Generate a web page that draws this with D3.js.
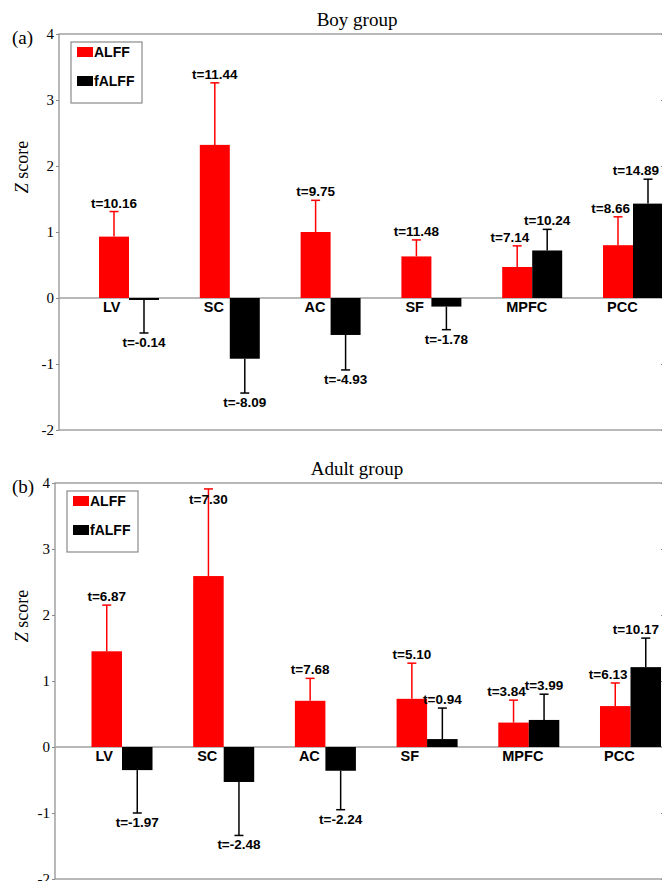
<!DOCTYPE html>
<html>
<head>
<meta charset="utf-8">
<script src="https://cdn.jsdelivr.net/npm/d3@7"></script>
<style>
  body { margin: 0; background: #fff; }
</style>
</head>
<body>
<div id="chart"></div>
<script>
"use strict";

// categories and series
const categories = ["LV", "SC", "AC", "SF", "MPFC", "PCC"];
const series = ["ALFF", "fALFF"];
const yTicks = [-2, -1, 0, 1, 2, 3, 4];

// boy group: mean Z score, error bar length, t value
const boyALFF = [0.93, 2.32, 1.00, 0.63, 0.47, 0.80];
const boyALFFErr = [0.38, 0.94, 0.48, 0.25, 0.32, 0.43];
const boyALFFt = ["10.16", "11.44", "9.75", "11.48", "7.14", "8.66"];
const boyFALFF = [-0.03, -0.92, -0.56, -0.13, 0.72, 1.43];
const boyFALFFErr = [0.50, 0.52, 0.53, 0.35, 0.32, 0.37];
const boyFALFFt = ["-0.14", "-8.09", "-4.93", "-1.78", "10.24", "14.89"];

// adult group
const adultALFF = [1.45, 2.59, 0.70, 0.73, 0.37, 0.62];
const adultALFFErr = [0.70, 1.32, 0.34, 0.54, 0.34, 0.35];
const adultALFFt = ["6.87", "7.30", "7.68", "5.10", "3.84", "6.13"];
const adultFALFF = [-0.35, -0.53, -0.36, 0.12, 0.41, 1.21];
const adultFALFFErr = [0.65, 0.81, 0.59, 0.47, 0.39, 0.44];
const adultFALFFt = ["-1.97", "-2.48", "-2.24", "0.94", "3.99", "10.17"];

const W = 662, H = 881;
const colors = { ALFF: "#ff0000", fALFF: "#000000" };
const serif = "'Liberation Serif', 'Times New Roman', serif";
const sans = "'Liberation Sans', Arial, sans-serif";
const frameColor = "#8a8a8a";

const svg = d3.select("#chart")
  .append("svg")
    .attr("width", W)
    .attr("height", H);

const panels = [
  { tag: "(a)", title: "Boy group", left: 59, right: 664, top: 34, bottom: 430,
    band: [78.6, 683.4], pad: 0.405,
    vals: [boyALFF, boyFALFF], errs: [boyALFFErr, boyFALFFErr], ts: [boyALFFt, boyFALFFt] },
  { tag: "(b)", title: "Adult group", left: 55, right: 664, top: 483, bottom: 879,
    band: [71.15, 681.35], pad: 0.40,
    vals: [adultALFF, adultFALFF], errs: [adultALFFErr, adultFALFFErr], ts: [adultALFFt, adultFALFFt] }
];

panels.forEach(drawPanel);

function drawPanel(p) {
  const y = d3.scaleLinear().domain([-2, 4]).range([p.bottom, p.top]);
  const x0 = d3.scaleBand().domain(categories).range(p.band)
    .paddingInner(p.pad).paddingOuter(p.pad / 2);
  const x1 = d3.scaleBand().domain(series).range([0, x0.bandwidth()]);

  const g = svg.append("g");

  // title and panel tag
  g.append("text")
    .attr("x", 357).attr("y", p.top - 8)
    .attr("text-anchor", "middle")
    .style("font-family", serif).style("font-size", "19px")
    .text(p.title);
  g.append("text")
    .attr("x", 12).attr("y", p.top + 10)
    .style("font-family", serif).style("font-size", "19px")
    .text(p.tag);

  // frame
  g.append("rect")
    .attr("x", p.left).attr("y", p.top)
    .attr("width", p.right - p.left).attr("height", p.bottom - p.top)
    .attr("fill", "none").attr("stroke", frameColor).attr("stroke-width", 1.2);

  // left axis
  const ax = g.append("g")
    .attr("transform", "translate(" + p.left + ",0)")
    .call(d3.axisLeft(y).tickValues(yTicks).tickSize(3).tickPadding(2)
      .tickFormat(function(d) { return String(d); }));
  ax.select(".domain").remove();
  ax.selectAll("line").attr("stroke", frameColor);
  ax.selectAll("text")
    .style("font-family", serif).style("font-size", "15px").attr("fill", "#000");

  // right axis ticks (inward)
  const axr = g.append("g")
    .attr("transform", "translate(" + p.right + ",0)")
    .call(d3.axisRight(y).tickValues(yTicks).tickSize(-3).tickFormat(""));
  axr.select(".domain").remove();
  axr.selectAll("line").attr("stroke", frameColor);

  // y label
  const yl = g.append("text")
    .attr("transform", "translate(28," + (p.top + 133) + ") rotate(-90)")
    .attr("text-anchor", "middle")
    .style("font-family", serif).style("font-size", "18px");
  yl.append("tspan").style("font-style", "italic").text("Z");
  yl.append("tspan").text(" score");

  // zero baseline
  g.append("line")
    .attr("x1", p.left).attr("x2", p.right)
    .attr("y1", y(0)).attr("y2", y(0))
    .attr("stroke", "#a0a0a0").attr("stroke-width", 1.5);

  const rows = [];
  categories.forEach(function(c, i) {
    series.forEach(function(s, j) {
      rows.push({ c: c, s: s, v: p.vals[j][i], e: p.errs[j][i], t: p.ts[j][i] });
    });
  });

  // bars
  g.append("g").selectAll("rect")
    .data(rows)
    .join("rect")
      .attr("x", function(d) { return x0(d.c) + x1(d.s); })
      .attr("width", x1.bandwidth())
      .attr("y", function(d) { return y(Math.max(d.v, 0)); })
      .attr("height", function(d) { return Math.abs(y(d.v) - y(0)); })
      .attr("fill", function(d) { return colors[d.s]; });

  // error bars
  const cx = function(d) { return x0(d.c) + x1(d.s) + x1.bandwidth() / 2; };
  const tip = function(d) { return d.v + (d.v < 0 ? -d.e : d.e); };
  const eb = g.append("g").selectAll("g")
    .data(rows)
    .join("g")
      .attr("stroke", function(d) { return colors[d.s]; })
      .attr("stroke-width", 1.5);
  eb.append("line")
    .attr("x1", cx).attr("x2", cx)
    .attr("y1", function(d) { return y(d.v); })
    .attr("y2", function(d) { return y(tip(d)); });
  eb.append("line")
    .attr("x1", function(d) { return cx(d) - 4.5; })
    .attr("x2", function(d) { return cx(d) + 4.5; })
    .attr("y1", function(d) { return y(tip(d)); })
    .attr("y2", function(d) { return y(tip(d)); });

  // t labels
  const labels = g.append("g").selectAll("text")
    .data(rows)
    .join("text")
      .attr("text-anchor", "middle")
      .attr("x", cx)
      .attr("y", function(d) {
        if (d.v < 0) return y(tip(d)) + 14;
        return Math.max(y(tip(d)) - 4, p.top + 21);
      })
      .style("font-family", sans).style("font-size", "13.5px").style("font-weight", "bold")
      .text(function(d) { return "t=" + d.t; });

  // keep labels clear of the neighbouring bar and the picture edge
  labels.each(function(d) {
    const el = d3.select(this);
    const w = this.getComputedTextLength();
    let x = cx(d);
    if (d.s === "fALFF") {
      x = Math.min(x, 659 - w / 2);
    } else {
      const i = categories.indexOf(d.c);
      const nb = p.vals[1][i] + p.errs[1][i];
      const nx = x0(d.c) + x1("fALFF");
      if (p.vals[1][i] > 0 && y(nb) < +el.attr("y")) x = Math.min(x, nx - 3 - w / 2);
    }
    el.attr("x", x);
  });

  // category labels
  g.append("g").selectAll("text")
    .data(categories)
    .join("text")
      .attr("x", function(d) { return x0(d) + 4; })
      .attr("y", y(0) + 14)
      .style("font-family", sans).style("font-size", "14.5px").style("font-weight", "bold")
      .text(function(d) { return d; });

  // legend
  const lg = g.append("g").attr("transform", "translate(" + (p.left + 12) + "," + (p.top + 8) + ")");
  lg.append("rect")
    .attr("width", 71).attr("height", 61)
    .attr("fill", "#fff").attr("stroke", frameColor).attr("stroke-width", 1.2);
  series.forEach(function(s, j) {
    lg.append("rect")
      .attr("x", 6).attr("y", 5 + j * 29)
      .attr("width", 16).attr("height", 10)
      .attr("fill", colors[s]);
    lg.append("text")
      .attr("x", 23).attr("y", 15 + j * 29)
      .style("font-family", sans).style("font-size", "14px").style("font-weight", "bold")
      .text(s);
  });
}
</script>
</body>
</html>
